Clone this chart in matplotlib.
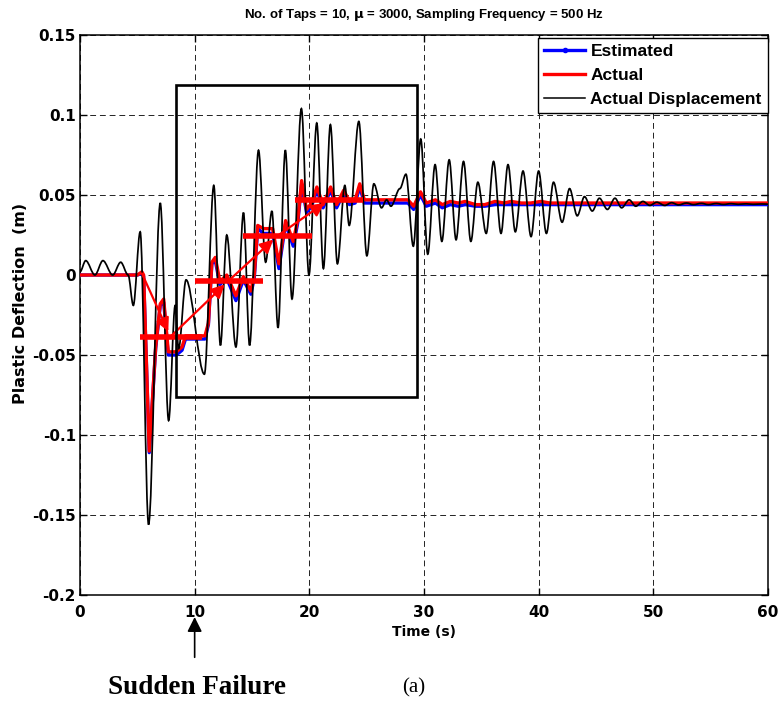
import matplotlib
matplotlib.use("Agg")
import matplotlib.pyplot as plt
from matplotlib.lines import Line2D
from matplotlib.patches import Rectangle, PathPatch
from matplotlib.path import Path

plt.rcParams['font.family'] = ['Liberation Sans', 'DejaVu Sans']
plt.rcParams['font.weight'] = 'bold'

# plastic displacement measured on the structure (peaks / troughs)
t_disp = [0, 0.5, 1.3, 2.0, 2.85, 3.55, 4.2, 4.65, 5.25, 5.98, 7.0, 7.73, 8.3, 8.6,
          9.25, 10.85, 11.67, 12.25, 12.8, 13.6, 14.26, 14.79, 15.57, 16.19,
          16.74, 17.27, 17.91, 18.49, 19.31, 19.97, 20.65, 21.23, 21.84, 22.45, 23.1,
          23.48, 24.32, 25.02, 25.63, 26.3, 26.74, 27.12, 27.9, 28.43, 29.07, 29.72,
          30.33, 30.97, 31.56, 32.2, 32.8, 33.45, 34.09, 34.7, 35.43, 36.07, 36.72,
          37.33, 37.97, 38.64, 39.34, 40.0, 40.68, 41.3, 42.05, 42.7, 43.37, 44.0,
          44.68, 45.3, 46.0, 46.66, 47.24, 47.9, 48.47, 49.1, 49.7, 50.3, 51.0, 51.6,
          52.2, 52.9, 53.5, 54.2, 54.8, 55.5, 56.1, 56.8, 57.4, 58.1, 58.7, 59.4, 60]
y_disp = [0.002, 0.009, 0.0, 0.009, 0.0, 0.008, 0.0, -0.019, 0.027, -0.156, 0.045,
          -0.091, -0.019, -0.046, -0.003, -0.062, 0.056, -0.044, 0.025, -0.045,
          0.039, -0.044, 0.078, 0.008, 0.040, -0.033, 0.078, -0.015, 0.104, 0.0, 0.095,
          0.004, 0.094, 0.007, 0.056, 0.031, 0.096, 0.012, 0.057, 0.042, 0.047, 0.043,
          0.054, 0.063, 0.018, 0.085, 0.013, 0.069, 0.021, 0.072, 0.022, 0.071, 0.021,
          0.058, 0.026, 0.071, 0.026, 0.069, 0.027, 0.065, 0.024, 0.065, 0.026, 0.058,
          0.033, 0.054, 0.037, 0.049, 0.040, 0.048, 0.041, 0.048, 0.042, 0.047, 0.043,
          0.046, 0.0435, 0.0455, 0.0435, 0.0452, 0.0438, 0.045, 0.044, 0.0448, 0.044,
          0.0447, 0.0441, 0.0446, 0.0442, 0.0445, 0.0442, 0.0444, 0.0443]

# actual plastic deflection
t_act = [0, 5.0, 5.4, 5.55, 6.04, 6.6, 7.0, 7.3, 7.7, 8.4, 8.9, 9.2, 10.9, 11.2, 11.5,
         11.8, 12.2, 12.8, 13.6, 14.25, 14.9, 15.2, 15.5, 16.0, 16.8, 17.35, 17.93,
         18.6, 19.0, 19.33, 19.76, 20.2, 20.66, 21.2, 21.86, 22.38, 23.0, 23.5, 24.0,
         24.4, 24.8, 28.6, 29.1, 29.7, 30.2, 31.0, 31.6, 32.3, 33.0, 33.6, 34.5, 35.3,
         36.2, 37.0, 37.6, 38.5, 39.3, 40.2, 41.0, 42.0, 60]
y_act = [0.0, 0.0, 0.002, 0.0, -0.110, -0.045, -0.018, -0.015, -0.048, -0.048, -0.045,
         -0.038, -0.038, -0.030, 0.008, 0.011, -0.004, 0.0, -0.013, -0.001, -0.010, 0.0,
         0.031, 0.029, 0.029, 0.007, 0.034, 0.021, 0.035, 0.059, 0.041, 0.045, 0.055,
         0.044, 0.055, 0.044, 0.053, 0.046, 0.047, 0.057, 0.047, 0.047, 0.043, 0.052,
         0.045, 0.047, 0.044, 0.046, 0.045, 0.046, 0.044, 0.044, 0.046, 0.045, 0.046,
         0.045, 0.045, 0.046, 0.045, 0.045, 0.045]

# estimated plastic deflection
y_est = [0.0, 0.0, 0.001, -0.001, -0.111, -0.046, -0.019, -0.017, -0.050, -0.050, -0.047,
         -0.040, -0.040, -0.031, 0.007, 0.009, -0.006, -0.002, -0.016, -0.003, -0.012,
         -0.002, 0.029, 0.026, 0.026, 0.004, 0.032, 0.018, 0.033, 0.057, 0.039, 0.043,
         0.053, 0.042, 0.053, 0.042, 0.051, 0.044, 0.045, 0.055, 0.045, 0.045, 0.041,
         0.050, 0.043, 0.045, 0.042, 0.044, 0.043, 0.044, 0.043, 0.043, 0.044, 0.044,
         0.044, 0.044, 0.044, 0.044, 0.044, 0.044, 0.044]

# mean deflection levels after the failure: (start, end, level)
step_start = [5.2, 10.0, 14.25, 18.75]
step_end = [10.6, 15.95, 20.2, 24.7]
step_level = [-0.0385, -0.0035, 0.0245, 0.047]


def smooth_path(xs, ys):
    # cubic segments with flat tangents at every peak/trough
    verts = [(xs[0], ys[0])]
    codes = [Path.MOVETO]
    for i in range(len(xs) - 1):
        dx = xs[i + 1] - xs[i]
        verts += [(xs[i] + dx / 3, ys[i]), (xs[i + 1] - dx / 3, ys[i + 1]),
                  (xs[i + 1], ys[i + 1])]
        codes += [Path.CURVE4] * 3
    return Path(verts, codes)


fig = plt.figure(figsize=(7.82, 7.06), dpi=100)
ax = fig.add_axes([0.1023, 0.1572, 0.8797, 0.7932])

ax.plot(t_act, y_est, color='blue', lw=2.4, zorder=3)
ax.plot(t_act, y_act, color='red', lw=2.4, zorder=4)
ax.add_patch(PathPatch(smooth_path(t_disp, y_disp), fill=False, ec='black', lw=1.25,
                       zorder=5))

for s, e, lev in zip(step_start, step_end, step_level):
    ax.plot([s, e], [lev, lev], color='red', lw=4.0, solid_capstyle='butt', zorder=6)

# arrows joining the levels
mids = [(s + e) / 2 for s, e in zip(step_start, step_end)]
arrow_from = [(5.4, 0.001)] + list(zip(mids[:-1], step_level[:-1]))
arrow_to = list(zip(mids, step_level))
for a, b in zip(arrow_from, arrow_to):
    ax.annotate('', xy=b, xytext=a,
                arrowprops=dict(arrowstyle='-|>', color='red', lw=1.6,
                                mutation_scale=20, shrinkA=0, shrinkB=4), zorder=7)

ax.add_patch(Rectangle((8.37, -0.076), 21.0, 0.195, fill=False, ec='black', lw=1.9, zorder=8))

ax.set_xlim(0, 60)
ax.set_ylim(-0.2, 0.15)
ax.set_xticks([0, 10, 20, 30, 40, 50, 60])
ax.set_yticks([-0.2, -0.15, -0.1, -0.05, 0, 0.05, 0.1, 0.15])
ax.set_yticklabels(['-0.2', '-0.15', '-0.1', '-0.05', '0', '0.05', '0.1', '0.15'])
ax.tick_params(direction='in', top=True, right=True, length=5, width=1, pad=3)
ax.tick_params(axis='x', pad=7)
for lab in ax.get_xticklabels() + ax.get_yticklabels():
    lab.set_family('DejaVu Sans')
    lab.set_fontsize(11)
    lab.set_fontweight('bold')
ax.grid(True, color='#222222', linestyle=(0, (6, 4)), lw=0.7)
for sp in ax.spines.values():
    sp.set_linewidth(1.1)

ax.set_title('No. of Taps = 10, $\\mathbf{\\mu}$ = 3000, Sampling Frequency = 500 Hz',
             fontsize=9.5, fontweight='bold', pad=12)
ax.set_xlabel('Time (s)', family='DejaVu Sans', fontsize=10, fontweight='bold', labelpad=4)
ax.set_ylabel('Plastic Deflection  (m)', family='DejaVu Sans', fontsize=11.5,
              fontweight='bold', labelpad=3, y=0.52)

handles = [Line2D([], [], color='blue', lw=2.4, marker='.', markersize=6),
           Line2D([], [], color='red', lw=2.4),
           Line2D([], [], color='black', lw=1.1)]
leg = ax.legend(handles, ['Estimated', 'Actual', 'Actual Displacement'], loc='upper right',
                bbox_to_anchor=(1.0, 0.995), prop={'size': 12.5, 'weight': 'bold'},
                fancybox=False, framealpha=1, edgecolor='black', borderaxespad=0.0,
                handlelength=2.35, labelspacing=0.5, borderpad=0.35, handletextpad=0.3)
leg.get_frame().set_linewidth(1.0)
leg.set_zorder(10)

ax.annotate('', xy=(10, 0.126), xytext=(10, 0.069),
            xycoords=('data', 'figure fraction'), textcoords=('data', 'figure fraction'),
            arrowprops=dict(arrowstyle='-|>', color='black', lw=1.2, mutation_scale=22,
                            shrinkA=0, shrinkB=0), annotation_clip=False)
fig.text(0.252, 0.0255, 'Sudden Failure', family='Liberation Serif', fontweight='bold',
         fontsize=19.5, ha='center', va='center')
fig.text(0.529, 0.0255, '(a)', family='Liberation Serif', fontweight='normal',
         fontsize=15, ha='center', va='center')

fig.savefig('out.png', dpi=100)
